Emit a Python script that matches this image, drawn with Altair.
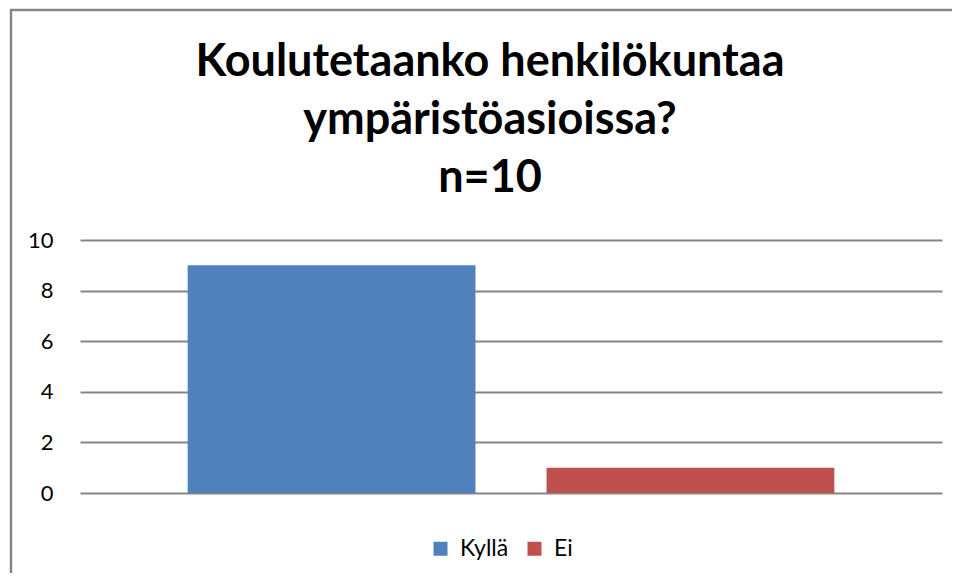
import altair as alt
import pandas as pd

categories = ["Kyllä", "Ei"]
values = [9, 1]
colors = ["#4F81BD", "#C0504D"]
y_ticks = [0, 2, 4, 6, 8, 10]

df = pd.DataFrame({"vastaus": categories, "lukumaara": values})

FONT = "Lato"

bars = alt.Chart(df).mark_bar().encode(
    x=alt.X("vastaus:N", sort=categories, axis=None,
            scale=alt.Scale(paddingInner=0.198, paddingOuter=0.30)),
    y=alt.Y("lukumaara:Q",
            scale=alt.Scale(domain=[0, 10], nice=False),
            axis=alt.Axis(values=y_ticks, title=None, domain=False, ticks=False,
                          grid=True, gridColor="#868686", gridWidth=2,
                          labelFont=FONT, labelFontSize=22, labelColor="#000000",
                          labelPadding=27)),
    color=alt.Color("vastaus:N", sort=categories,
                    scale=alt.Scale(domain=categories, range=colors),
                    legend=alt.Legend(title=None, orient="none", direction="horizontal",
                                      legendX=349, legendY=297,
                                      symbolType="square", symbolSize=196,
                                      symbolStrokeWidth=0, symbolOpacity=1,
                                      labelFont=FONT, labelFontSize=23,
                                      labelColor="#000000", labelOffset=8,
                                      columnPadding=14)),
)

border = alt.Chart(alt.Data(values=[{"a": 1}])).mark_rect(
    fill=None, stroke="#868686", strokeWidth=2.5
).encode(
    x=alt.value(-69), x2=alt.value(920), y=alt.value(-230), y2=alt.value(400)
)

chart = alt.layer(border, bars).properties(
    width=862, height=253,
    title=alt.Title(["Koulutetaanko henkilökuntaa", "ympäristöasioissa?", "n=10"],
                    font=FONT, fontSize=45, fontWeight="bold", color="#000000",
                    lineHeight=58, anchor="middle", dx=-21, offset=-192),
    padding={"left": 72, "top": 232, "right": 10, "bottom": 80},
    autosize=alt.AutoSizeParams(type="none"),
).configure_view(stroke=None)

chart.save("out.html", embed_options={"renderer": "svg", "actions": False})
